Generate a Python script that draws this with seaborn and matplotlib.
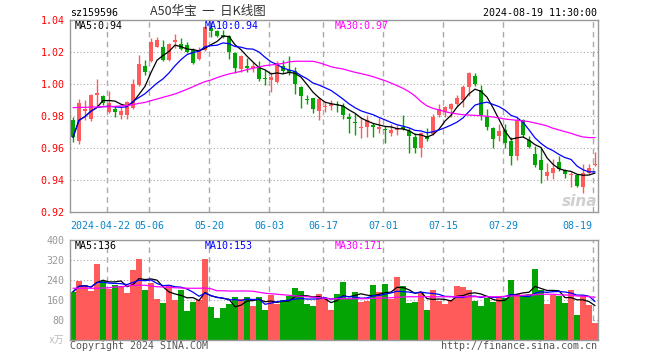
import matplotlib
matplotlib.use("Agg")
import matplotlib.pyplot as plt
import matplotlib.transforms as mtransforms
import seaborn as sns
import numpy as np
import pandas as pd

# daily candles, 2024-04-12 .. 2024-08-19 (88 trading days)
open_ = [0.9775, 0.9646, 0.9829, 0.9781, 0.9931, 0.9925, 0.9827, 0.9842, 0.9808, 0.9806,
         0.9848, 0.9994, 1.0113, 1.0146, 1.0233, 1.0229, 1.0150, 1.0265, 1.0250, 1.0244,
         1.0213, 1.0154, 1.0213, 1.0350, 1.0331, 1.0306, 1.0300, 1.0196, 1.0092, 1.0113,
         1.0098, 1.0104, 1.0035, 1.0025, 1.0015, 1.0113, 1.0088, 1.0083, 0.9983, 0.9908,
         0.9910, 0.9833, 0.9854, 0.9863, 0.9875, 0.9863, 0.9796, 0.9765, 0.9725, 0.9729,
         0.9744, 0.9717, 0.9717, 0.9696, 0.9713, 0.9729, 0.9708, 0.9667, 0.9598, 0.9675,
         0.9688, 0.9806, 0.9827, 0.9842, 0.9875, 0.9900, 0.9983, 1.0050, 0.9963, 0.9800,
         0.9723, 0.9675, 0.9713, 0.9646, 0.9550, 0.9775, 0.9650, 0.9563, 0.9525, 0.9425,
         0.9446, 0.9515, 0.9463, 0.9429, 0.9431, 0.9358, 0.9446, 0.9494]
high = [0.9796, 0.9904, 0.9900, 0.9938, 1.0029, 0.9931, 0.9958, 0.9863, 0.9854, 0.9894,
        1.0029, 1.0181, 1.0150, 1.0285, 1.0296, 1.0275, 1.0254, 1.0313, 1.0285, 1.0265,
        1.0223, 1.0229, 1.0360, 1.0390, 1.0338, 1.0338, 1.0306, 1.0202, 1.0181, 1.0160,
        1.0140, 1.0146, 1.0088, 1.0077, 1.0146, 1.0150, 1.0175, 1.0108, 0.9988, 0.9931,
        0.9915, 0.9921, 0.9890, 0.9900, 0.9896, 0.9883, 0.9821, 0.9817, 0.9785, 0.9806,
        0.9758, 0.9785, 0.9738, 0.9750, 0.9744, 0.9806, 0.9723, 0.9692, 0.9702, 0.9723,
        0.9813, 0.9875, 0.9863, 0.9879, 0.9931, 0.9994, 1.0077, 1.0067, 0.9994, 0.9842,
        0.9729, 0.9750, 0.9750, 0.9667, 0.9785, 0.9779, 0.9675, 0.9613, 0.9598, 0.9508,
        0.9529, 0.9550, 0.9467, 0.9452, 0.9438, 0.9500, 0.9500, 0.9577]
low = [0.9640, 0.9625, 0.9775, 0.9771, 0.9863, 0.9869, 0.9821, 0.9792, 0.9779, 0.9779,
       0.9842, 0.9988, 1.0056, 1.0140, 1.0229, 1.0146, 1.0146, 1.0223, 1.0213, 1.0192,
       1.0123, 1.0150, 1.0205, 1.0296, 1.0296, 1.0285, 1.0154, 1.0071, 1.0077, 1.0077,
       1.0077, 1.0021, 0.9994, 0.9952, 1.0008, 1.0067, 1.0056, 0.9938, 0.9848, 0.9875,
       0.9821, 0.9775, 0.9827, 0.9838, 0.9827, 0.9779, 0.9692, 0.9681, 0.9660, 0.9667,
       0.9671, 0.9692, 0.9629, 0.9675, 0.9681, 0.9713, 0.9571, 0.9571, 0.9542, 0.9646,
       0.9681, 0.9796, 0.9792, 0.9792, 0.9863, 0.9858, 0.9925, 0.9988, 0.9775, 0.9713,
       0.9598, 0.9646, 0.9598, 0.9494, 0.9525, 0.9667, 0.9598, 0.9483, 0.9379, 0.9400,
       0.9404, 0.9458, 0.9410, 0.9358, 0.9354, 0.9320, 0.9438, 0.9488]
close = [0.9667, 0.9879, 0.9844, 0.9931, 0.9946, 0.9883, 0.9879, 0.9827, 0.9833, 0.9890,
         1.0000, 1.0125, 1.0077, 1.0265, 1.0275, 1.0150, 1.0250, 1.0275, 1.0217, 1.0202,
         1.0129, 1.0213, 1.0354, 1.0330, 1.0302, 1.0296, 1.0202, 1.0098, 1.0175, 1.0098,
         1.0113, 1.0029, 1.0029, 1.0046, 1.0129, 1.0083, 1.0077, 1.0000, 0.9925, 0.9900,
         0.9842, 0.9904, 0.9863, 0.9875, 0.9867, 0.9806, 0.9779, 0.9758, 0.9729, 0.9775,
         0.9729, 0.9729, 0.9713, 0.9713, 0.9723, 0.9717, 0.9675, 0.9598, 0.9696, 0.9654,
         0.9796, 0.9842, 0.9854, 0.9875, 0.9910, 0.9983, 1.0071, 1.0000, 0.9806, 0.9729,
         0.9654, 0.9706, 0.9633, 0.9550, 0.9775, 0.9681, 0.9604, 0.9494, 0.9463, 0.9452,
         0.9477, 0.9467, 0.9438, 0.9435, 0.9363, 0.9446, 0.9473, 0.9500]
ma30 = [0.9852, 0.9854, 0.9854, 0.9856, 0.9856, 0.9858, 0.9858, 0.9860, 0.9863, 0.9865,
        0.9871, 0.9879, 0.9885, 0.9896, 0.9906, 0.9917, 0.9927, 0.9938, 0.9952, 0.9967,
        0.9983, 1.0000, 1.0015, 1.0025, 1.0040, 1.0052, 1.0063, 1.0071, 1.0079, 1.0090,
        1.0098, 1.0106, 1.0115, 1.0119, 1.0123, 1.0129, 1.0138, 1.0142, 1.0142, 1.0142,
        1.0142, 1.0133, 1.0121, 1.0108, 1.0100, 1.0094, 1.0083, 1.0073, 1.0065, 1.0056,
        1.0046, 1.0033, 1.0021, 1.0006, 0.9990, 0.9973, 0.9952, 0.9925, 0.9890, 0.9863,
        0.9848, 0.9838, 0.9827, 0.9819, 0.9813, 0.9808, 0.9806, 0.9804, 0.9802, 0.9798,
        0.9794, 0.9788, 0.9781, 0.9777, 0.9773, 0.9769, 0.9765, 0.9756, 0.9748, 0.9738,
        0.9723, 0.9713, 0.9702, 0.9692, 0.9679, 0.9669, 0.9665, 0.9665]

# volume, 万
volume = [193, 237, 220, 197, 304, 237, 204, 220, 216, 189,
          280, 324, 200, 229, 164, 148, 220, 160, 200, 116,
          152, 160, 324, 132, 88, 128, 144, 172, 164, 172,
          136, 172, 120, 180, 144, 160, 176, 208, 197, 144,
          136, 184, 164, 120, 184, 233, 163, 192, 152, 157,
          220, 192, 224, 165, 252, 216, 148, 152, 192, 120,
          200, 156, 144, 160, 216, 212, 200, 156, 136, 168,
          152, 171, 168, 240, 184, 179, 184, 284, 200, 144,
          180, 176, 148, 200, 100, 180, 140, 68]
vol_ma30 = [207, 207, 207, 207, 207, 208, 209, 212, 213, 216,
            219, 219, 219, 216, 213, 212, 211, 209, 208, 207,
            207, 207, 208, 205, 197, 197, 196, 196, 196, 196,
            195, 191, 187, 185, 183, 181, 179, 176, 175, 173,
            171, 169, 167, 164, 165, 165, 165, 165, 165, 165,
            167, 167, 168, 169, 171, 172, 173, 173, 173, 173,
            173, 173, 173, 173, 173, 173, 173, 173, 173, 173,
            173, 173, 175, 176, 177, 179, 180, 181, 183, 183,
            183, 181, 180, 179, 176, 175, 173, 171]

tick_idx = [6, 13, 23, 33, 42, 52, 62, 72, 87]
tick_lab = ["2024-04-22", "05-06", "05-20", "06-03", "06-17", "07-01", "07-15", "07-29", "08-19"]
price_ticks = [0.92, 0.94, 0.96, 0.98, 1.00, 1.02, 1.04]
vol_ticks = [80, 160, 240, 320, 400]

RED = "#ff5b5b"
GREEN = "#04a404"
GRID = "#aaaaaa"

sns.set_style("white")
plt.rcParams["font.family"] = ["DejaVu Sans Mono", "Noto Sans CJK SC"]

df = pd.DataFrame({"open": open_, "high": high, "low": low, "close": close,
                   "ma30": ma30, "vol": volume, "vol_ma30": vol_ma30})
df["i"] = np.arange(len(df))
df["ma5"] = df["close"].rolling(5, min_periods=1).mean()
df["ma10"] = df["close"].rolling(10, min_periods=1).mean()
df["vol_ma5"] = df["vol"].rolling(5, min_periods=1).mean()
df["vol_ma10"] = df["vol"].rolling(10, min_periods=1).mean()
up = df["close"] >= df["open"]
colors = np.where(up, RED, GREEN)

W, H = 660, 360


def box(l, t, r, b):
    return [l / W, 1 - b / H, (r - l) / W, (b - t) / H]


def ftext(x, y, s, **kw):
    fig.text(x / W, 1 - y / H, s, **kw)


fig = plt.figure(figsize=(6.6, 3.6), dpi=100)
ax = fig.add_axes(box(70, 20, 598, 212))
axv = fig.add_axes(box(70, 240, 598, 340))

# price panel
for y in price_ticks[1:-1]:
    ax.axhline(y, color=GRID, lw=0.8, ls=(0, (1, 2)), zorder=0)
for a in (ax, axv):
    for t in tick_idx:
        a.axvline(t - 0.35, color=GRID, lw=1, ls=(0, (4, 3)), zorder=0)

ax.vlines(df["i"], df["low"], df["high"], colors=colors, lw=1, zorder=2)
body = np.maximum((df["close"] - df["open"]).abs(), 0.0005)
ax.bar(df["i"], body, bottom=np.minimum(df["open"], df["close"]), width=0.75,
       color=colors, lw=0, zorder=3)

sns.lineplot(x=df["i"], y=df["ma5"], ax=ax, color="black", lw=0.9, zorder=4)
sns.lineplot(x=df["i"], y=df["ma10"], ax=ax, color="#0000ff", lw=0.9, zorder=4)
sns.lineplot(x=df["i"], y=df["ma30"], ax=ax, color="#ff00ff", lw=0.9, zorder=4)

ax.set_xlim(-0.5, len(df) - 0.5)
ax.set_ylim(0.92, 1.04)
ax.set_yticks(price_ticks)
ax.set_yticklabels([f"{v:.2f}" for v in price_ticks], color="red", fontsize=7.2)
ax.set_xticks([])
ax.tick_params(length=0, pad=4)
ax.set_xlabel("")
ax.set_ylabel("")

# date labels under the price panel
trans = mtransforms.blended_transform_factory(ax.transData, ax.transAxes)
for k, (t, lab) in enumerate(zip(tick_idx, tick_lab)):
    if k == 0:
        ax.text(t + 3.6, -0.045, lab, transform=trans, ha="right", va="top",
                color="#0a84c8", fontsize=7.2)
    elif k == len(tick_idx) - 1:
        ax.text(t - 0.45, -0.045, lab, transform=trans, ha="right", va="top",
                color="#0a84c8", fontsize=7.2)
    else:
        ax.text(t - 0.35, -0.045, lab, transform=trans, ha="center", va="top",
                color="#0a84c8", fontsize=7.2)

# volume panel
for y in vol_ticks[:-1]:
    axv.axhline(y, color=GRID, lw=0.8, ls=(0, (1, 2)), zorder=0)
axv.bar(df["i"], df["vol"], width=0.85, color=colors, lw=0, zorder=2)
sns.lineplot(x=df["i"], y=df["vol_ma5"], ax=axv, color="black", lw=0.9, zorder=4)
sns.lineplot(x=df["i"], y=df["vol_ma10"], ax=axv, color="#0000ff", lw=0.9, zorder=4)
sns.lineplot(x=df["i"], y=df["vol_ma30"], ax=axv, color="#ff00ff", lw=0.9, zorder=4)
axv.set_xlim(-0.5, len(df) - 0.5)
axv.set_ylim(0, 400)
axv.set_xticks([])
axv.set_yticks(vol_ticks)
axv.set_yticklabels([str(v) for v in vol_ticks], color="#999999", fontsize=7.2)
axv.tick_params(length=0, pad=4)
axv.set_xlabel("")
axv.set_ylabel("")

for a in (ax, axv):
    for sp in a.spines.values():
        sp.set_color("#999999")
        sp.set_linewidth(1)

# texts
ftext(70, 13, "sz159596", fontsize=7.2, va="center", color="black")
ftext(150, 12, "A50华宝  一  日K线图", fontsize=9, va="center", color="#333333",
      family=["Noto Sans CJK SC", "DejaVu Sans"])
ftext(597, 13, "2024-08-19 11:30:00", fontsize=7.2, va="center", ha="right", color="black")
ftext(75, 26, "MA5:0.94", fontsize=7.2, va="center", color="black")
ftext(205, 26, "MA10:0.94", fontsize=7.2, va="center", color="#0000ff")
ftext(335, 26, "MA30:0.97", fontsize=7.2, va="center", color="#ff00ff")
ftext(75, 246, "MA5:136", fontsize=7.2, va="center", color="black")
ftext(205, 246, "MA10:153", fontsize=7.2, va="center", color="#0000ff")
ftext(335, 246, "MA30:171", fontsize=7.2, va="center", color="#ff00ff")
ftext(64, 340, "x万", fontsize=7, va="center", ha="right", color="#bbbbbb")
ftext(70, 346, "Copyright 2024 SINA.COM", fontsize=7.2, va="center", color="#555555")
ftext(597, 346, "http://finance.sina.com.cn", fontsize=7.2, va="center", ha="right",
      color="#555555")
ftext(580, 201, "sina", fontsize=11, va="center", ha="center", color="#cfcfcf",
      style="italic", weight="bold", family=["DejaVu Sans"])

fig.savefig("out.png", dpi=100)
